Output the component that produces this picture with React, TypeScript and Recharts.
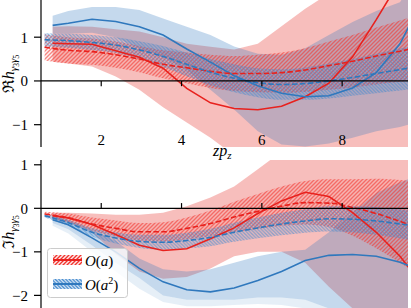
import React from "react";
import { Area, ComposedChart, Line, ReferenceLine, XAxis, YAxis } from "recharts";

// z grid of the fit curves (hatched bands) and of the lattice points (wide bands)
const zFit = [0.59, 1.18, 1.77, 2.36, 2.95, 3.54, 4.13, 4.72, 5.31, 5.9, 6.49, 7.08, 7.67, 8.26, 8.85, 9.44, 10.03];
const zLat = [0.79, 1.18, 1.77, 2.36, 2.95, 3.54, 4.13, 4.72, 5.31, 5.9, 6.49, 7.08, 7.67, 8.26, 8.85, 9.44, 10.03];
const xTicks = [2, 4, 6, 8];
const reTicks = [-1, 0, 1];
const imTicks = [-2, -1, 0, 1];

// real part
const reFitA = [0.77, 0.7, 0.67, 0.6, 0.5, 0.38, 0.3, 0.22, 0.17, 0.17, 0.19, 0.25, 0.35, 0.45, 0.57, 0.68, 0.8];
const reFitALo = [0.47, 0.4, 0.37, 0.3, 0.2, 0.06, -0.05, -0.16, -0.23, -0.26, -0.27, -0.25, -0.2, -0.15, -0.08, -0.02, 0.05];
const reFitAHi = [1.07, 1.0, 0.97, 0.9, 0.8, 0.7, 0.65, 0.6, 0.57, 0.6, 0.65, 0.75, 0.9, 1.05, 1.22, 1.38, 1.55];
const reFitA2 = [0.94, 0.92, 0.88, 0.82, 0.71, 0.56, 0.38, 0.2, 0.06, -0.04, -0.08, -0.06, 0.0, 0.08, 0.17, 0.26, 0.35];
const reFitA2Lo = [0.79, 0.76, 0.71, 0.64, 0.51, 0.32, 0.11, -0.1, -0.26, -0.37, -0.43, -0.43, -0.4, -0.34, -0.28, -0.22, -0.15];
const reFitA2Hi = [1.09, 1.08, 1.05, 1.0, 0.91, 0.8, 0.65, 0.5, 0.38, 0.29, 0.27, 0.31, 0.4, 0.5, 0.62, 0.74, 0.85];
const reLatA = [0.86, 0.85, 0.84, 0.69, 0.54, 0.29, -0.17, -0.5, -0.63, -0.66, -0.58, -0.36, -0.05, 0.55, 1.4, 2.3, 3.2];
const reLatAHi = [1.24, 1.25, 1.24, 1.18, 1.13, 1.0, 0.85, 0.78, 0.72, 0.85, 1.25, 1.65, 2.0, 2.5, 3.0, 3.5, 4.0];
const reLatALo = [0.44, 0.4, 0.33, 0.1, -0.2, -0.6, -0.95, -1.3, -1.7, -2.0, -2.2, -2.3, -2.3, -2.2, -2.0, -1.8, -1.6];
const reLatA2 = [1.27, 1.32, 1.41, 1.36, 1.24, 1.05, 0.73, 0.43, 0.12, -0.11, -0.28, -0.36, -0.34, -0.16, 0.19, 0.85, 1.9];
const reLatA2Hi = [1.49, 1.6, 1.69, 1.69, 1.62, 1.43, 1.24, 1.05, 0.79, 0.62, 0.6, 0.75, 1.05, 1.35, 1.6, 1.8, 2.6];
const reLatA2Lo = [1.09, 1.08, 1.1, 1.0, 0.75, 0.55, 0.25, -0.2, -0.65, -1.15, -1.45, -1.5, -1.43, -1.3, -1.15, -1.05, -0.9];

// imaginary part
const imFitA = [-0.13, -0.22, -0.36, -0.46, -0.54, -0.54, -0.46, -0.35, -0.2, -0.07, 0.05, 0.13, 0.12, 0.02, -0.12, -0.3, -0.5];
const imFitALo = [-0.18, -0.32, -0.51, -0.64, -0.74, -0.76, -0.71, -0.65, -0.55, -0.47, -0.4, -0.37, -0.43, -0.63, -0.92, -1.25, -1.6];
const imFitAHi = [-0.08, -0.12, -0.21, -0.28, -0.34, -0.32, -0.21, -0.05, 0.15, 0.33, 0.5, 0.63, 0.67, 0.67, 0.68, 0.65, 0.6];
const imFitA2 = [-0.17, -0.33, -0.55, -0.68, -0.76, -0.78, -0.74, -0.67, -0.55, -0.45, -0.36, -0.29, -0.24, -0.25, -0.29, -0.36, -0.44];
const imFitA2Lo = [-0.21, -0.4, -0.65, -0.81, -0.91, -0.95, -0.92, -0.87, -0.77, -0.69, -0.62, -0.56, -0.53, -0.55, -0.61, -0.69, -0.79];
const imFitA2Hi = [-0.13, -0.26, -0.45, -0.55, -0.61, -0.61, -0.56, -0.47, -0.33, -0.21, -0.1, -0.02, 0.05, 0.05, 0.03, -0.03, -0.09];
const imLatA = [-0.17, -0.22, -0.37, -0.6, -0.85, -0.97, -0.93, -0.7, -0.45, -0.12, 0.17, 0.37, 0.27, -0.1, -0.55, -1.1, -1.8];
const imLatAHi = [-0.1, -0.1, -0.12, -0.15, -0.15, -0.1, 0.05, 0.25, 0.5, 0.9, 1.3, 1.6, 1.8, 1.8, 1.7, 1.5, 1.3];
const imLatALo = [-0.25, -0.34, -0.55, -1.05, -1.45, -1.62, -1.58, -1.38, -1.1, -1.0, -1.0, -1.25, -1.8, -2.3, -2.7, -3.0, -3.2];
const imLatA2 = [-0.26, -0.38, -0.68, -1.0, -1.38, -1.69, -1.87, -1.92, -1.83, -1.66, -1.45, -1.2, -1.08, -1.06, -1.1, -1.24, -1.45];
const imLatA2Hi = [-0.18, -0.28, -0.5, -0.75, -1.15, -1.4, -1.45, -1.4, -1.25, -1.1, -1.0, -0.95, -0.55, -0.1, 0.35, 0.6, 0.8];
const imLatA2Lo = [-0.34, -0.48, -0.85, -1.25, -1.6, -2.0, -2.1, -2.1, -2.1, -2.05, -2.05, -2.1, -2.3, -2.5, -2.7, -2.9, -3.1];
const imLatA2LoSys = [-0.4, -0.58, -1.0, -1.45, -1.85, -2.15, -2.25, -2.25, -2.22, -2.2, -2.22, -2.3, -2.5, -2.7, -2.9, -3.1, -3.3];

const RED = "#e8211d";
const BLUE = "#2f78bd";
const FONT = "'Liberation Serif', 'DejaVu Serif', serif";

const rows = (z: number[], c: number[], lo: number[], hi: number[]) =>
  z.map((v, i) => ({ z: v, c: c[i], band: [lo[i], hi[i]] }));

const fmt = (v: number) => (v < 0 ? `\u2212${-v}` : `${v}`);

// "/" hatch for O(a), "\" hatch for O(a^2)
function Hatches({ id }: { id: string }) {
  return (
    <defs>
      <pattern id={`red-${id}`} patternUnits="userSpaceOnUse" width="4" height="4">
        <rect width="4" height="4" fill={RED} fillOpacity={0.1} />
        <path d="M-1,1 L1,-1 M0,4 L4,0 M3,5 L5,3" stroke="#f2332d" strokeWidth={1.35} />
      </pattern>
      <pattern id={`blue-${id}`} patternUnits="userSpaceOnUse" width="3.5" height="3.5">
        <rect width="3.5" height="3.5" fill={BLUE} fillOpacity={0.12} />
        <path d="M-1,2.5 L1,4.5 M0,0 L3.5,3.5 M2.5,-1 L4.5,1" stroke="#3f88cf" strokeWidth={1.3} />
      </pattern>
    </defs>
  );
}

const XTick = (props: any) => (
  <text x={props.x} y={props.y} dy={-2} textAnchor="middle" fontFamily={FONT} fontSize={15} fill="#000">
    {props.payload.value}
  </text>
);

const axisStroke = { stroke: "#000", strokeWidth: 1.2 };

function Panel(props: {
  id: string;
  height: number;
  top: number;
  domain: [number, number];
  ticks: number[];
  tickDir: number;
  showX: boolean;
  latA: any[];
  latA2: any[];
  latA2Sys?: any[];
  fitA: any[];
  fitA2: any[];
}) {
  const { id } = props;
  return (
    <ComposedChart width={411} height={props.height} margin={{ top: props.top, right: 3, bottom: 0, left: 0 }}>
      <Hatches id={id} />
      <XAxis
        type="number"
        dataKey="z"
        domain={[0.5, 9.64]}
        allowDataOverflow
        ticks={xTicks}
        interval={0}
        height={props.showX ? 13 : 0}
        hide={!props.showX}
        axisLine={false}
        tickLine={false}
        tickSize={0}
        tickMargin={0}
        tick={XTick}
      />
      <YAxis
        type="number"
        domain={props.domain}
        allowDataOverflow
        ticks={props.ticks}
        interval={0}
        width={41}
        axisLine={axisStroke}
        tickLine={axisStroke}
        tickSize={7}
        tickMargin={6}
        tickFormatter={fmt}
        tick={{ fill: "#000", fontSize: 15, fontFamily: FONT }}
      />
      {props.latA2Sys && (
        <Area data={props.latA2Sys} dataKey="band" type="linear" fill={BLUE} fillOpacity={0.12} stroke="none" isAnimationActive={false} />
      )}
      <Area data={props.latA} dataKey="band" type="linear" fill="#e8453f" fillOpacity={0.35} stroke="none" isAnimationActive={false} />
      <Area data={props.latA2} dataKey="band" type="linear" fill={BLUE} fillOpacity={0.28} stroke="none" isAnimationActive={false} />
      <Area data={props.fitA} dataKey="band" type="monotone" fill={`url(#red-${id})`} stroke="none" isAnimationActive={false} />
      <Area data={props.fitA2} dataKey="band" type="monotone" fill={`url(#blue-${id})`} stroke="none" isAnimationActive={false} />
      <Line data={props.latA} dataKey="c" type="linear" stroke={RED} strokeWidth={1.6} dot={false} isAnimationActive={false} />
      <Line data={props.latA2} dataKey="c" type="linear" stroke={BLUE} strokeWidth={1.6} dot={false} isAnimationActive={false} />
      <Line data={props.fitA} dataKey="c" type="monotone" stroke={RED} strokeWidth={1.6} strokeDasharray="5.5 2.4" dot={false} isAnimationActive={false} />
      <Line data={props.fitA2} dataKey="c" type="monotone" stroke={BLUE} strokeWidth={1.6} strokeDasharray="5.5 2.4" dot={false} isAnimationActive={false} />
      <ReferenceLine y={0} stroke="#000" strokeWidth={1.3} />
      {xTicks.map((t) => (
        <ReferenceLine
          key={t}
          segment={[
            { x: t, y: 0 },
            { x: t, y: props.tickDir * 0.12 },
          ]}
          stroke="#000"
          strokeWidth={1.2}
        />
      ))}
    </ComposedChart>
  );
}

function YLabel({ x, y, glyph }: { x: number; y: number; glyph: string }) {
  return (
    <text transform={`translate(${x},${y}) rotate(-90)`} textAnchor="middle" fontFamily={FONT} fill="#000">
      <tspan fontSize={16}>{glyph}</tspan>
      <tspan fontSize={16} fontStyle="italic">h</tspan>
      <tspan fontSize={11} fontStyle="italic" dy={3}>γ</tspan>
      <tspan fontSize={8} dy={2}>3</tspan>
      <tspan fontSize={11} fontStyle="italic" dy={-2}>γ</tspan>
      <tspan fontSize={8} dy={2}>5</tspan>
    </text>
  );
}

function Overlay() {
  return (
    <svg width={411} height={308} style={{ position: "absolute", left: 0, top: 0, pointerEvents: "none" }}>
      <Hatches id="leg" />
      <YLabel x={14} y={74} glyph={"\u211C"} />
      <YLabel x={14} y={232} glyph={"\u2111"} />
      <text x={213} y={156} fontFamily={FONT} fontSize={16} fontStyle="italic" fill="#000">
        zp<tspan fontSize={11} dy={3}>z</tspan>
      </text>
      <rect x={47.5} y={248.5} width={80} height={49} rx={3} fill="#fff" fillOpacity={0.8} stroke="#ccc" />
      <rect x={53} y={255} width={29} height={10} fill="url(#red-leg)" />
      <line x1={53} y1={260} x2={82} y2={260} stroke={RED} strokeWidth={2} />
      <text x={85} y={266} fontFamily={FONT} fontSize={15} fill="#000">
        <tspan fontStyle="italic">O</tspan>(<tspan fontStyle="italic">a</tspan>)
      </text>
      <rect x={53} y={279} width={29} height={10} fill="url(#blue-leg)" />
      <line x1={53} y1={284} x2={82} y2={284} stroke={BLUE} strokeWidth={2} />
      <text x={85} y={290} fontFamily={FONT} fontSize={15} fill="#000">
        <tspan fontStyle="italic">O</tspan>(<tspan fontStyle="italic">a</tspan>
        <tspan fontSize={10} dy={-6}>2</tspan>
        <tspan dy={6}>)</tspan>
      </text>
    </svg>
  );
}

export default function App() {
  return (
    <div style={{ position: "absolute", left: 0, top: 0, width: 411, height: 308, overflow: "hidden", background: "#fff" }}>
      <div style={{ position: "absolute", left: 0, top: 0 }}>
        <Panel
          id="re"
          height={160}
          top={0}
          domain={[-1.51, 1.85]}
          ticks={reTicks}
          tickDir={-1}
          showX
          latA={rows(zLat, reLatA, reLatALo, reLatAHi)}
          latA2={rows(zLat, reLatA2, reLatA2Lo, reLatA2Hi)}
          fitA={rows(zFit, reFitA, reFitALo, reFitAHi)}
          fitA2={rows(zFit, reFitA2, reFitA2Lo, reFitA2Hi)}
        />
      </div>
      <div style={{ position: "absolute", left: 0, top: 150 }}>
        <Panel
          id="im"
          height={158}
          top={10}
          domain={[-2.29, 1.11]}
          ticks={imTicks}
          tickDir={1}
          showX={false}
          latA={rows(zLat, imLatA, imLatALo, imLatAHi)}
          latA2={rows(zLat, imLatA2, imLatA2Lo, imLatA2Hi)}
          latA2Sys={rows(zLat, imLatA2, imLatA2LoSys, imLatA2Lo)}
          fitA={rows(zFit, imFitA, imFitALo, imFitAHi)}
          fitA2={rows(zFit, imFitA2, imFitA2Lo, imFitA2Hi)}
        />
      </div>
      <Overlay />
    </div>
  );
}
